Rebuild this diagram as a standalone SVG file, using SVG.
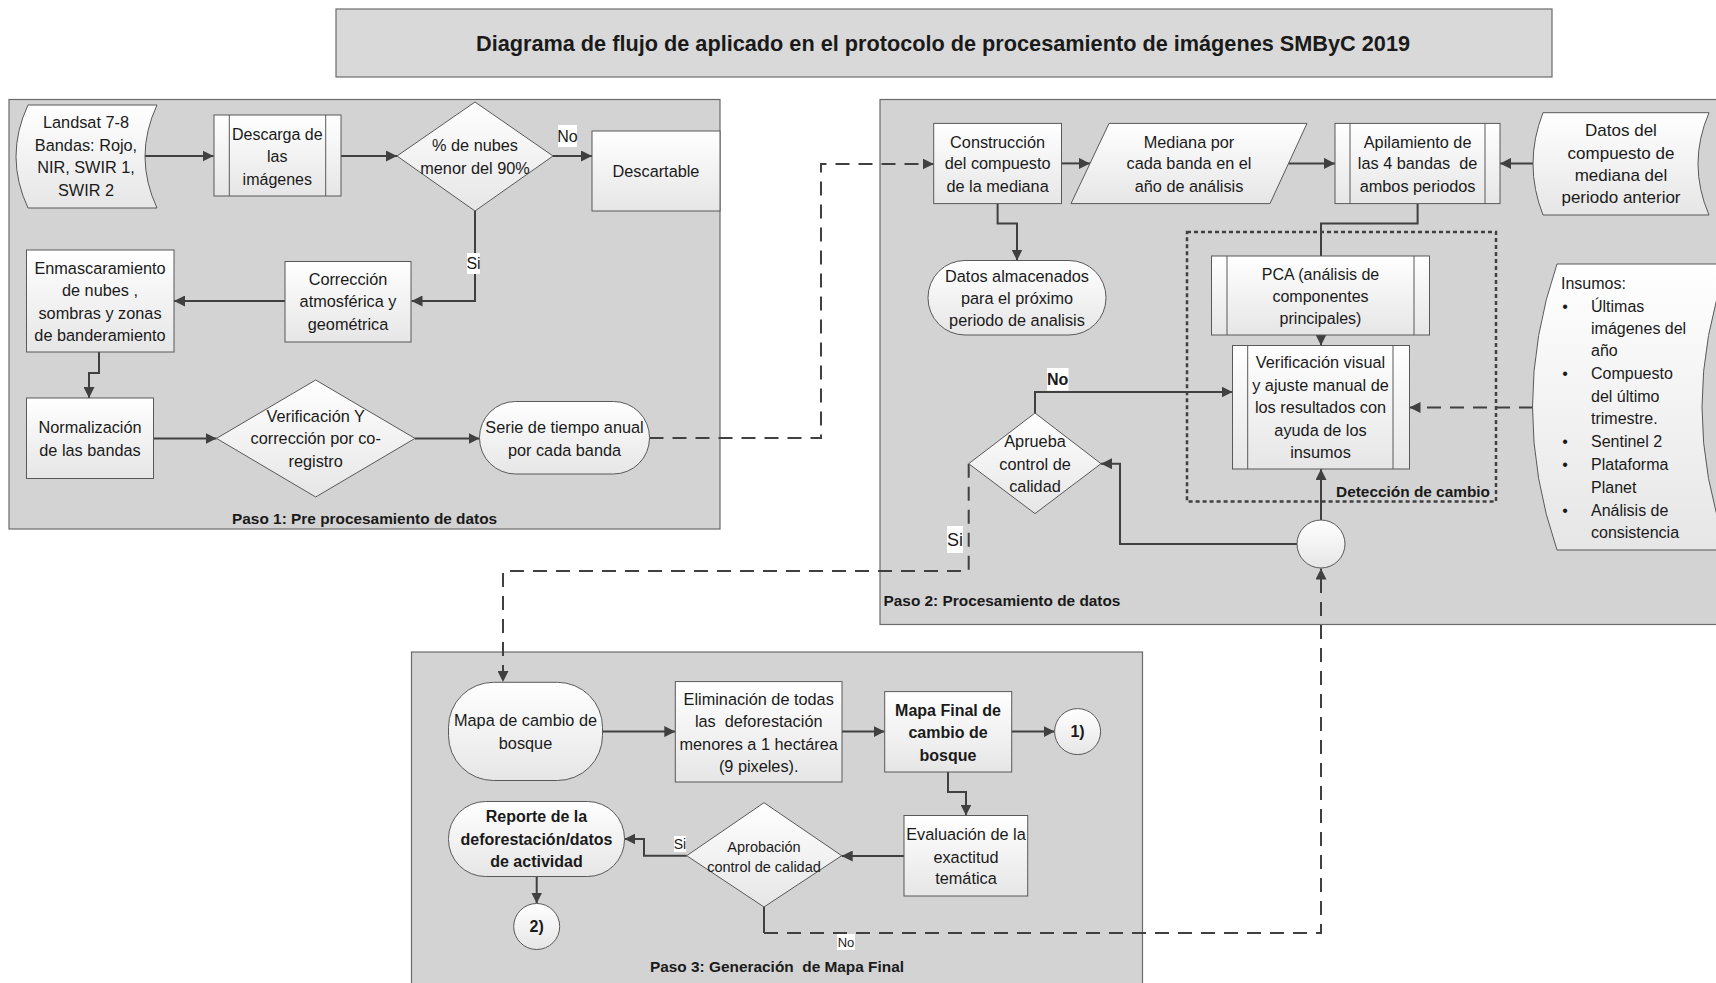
<svg xmlns="http://www.w3.org/2000/svg" width="1716" height="983" viewBox="0 0 1716 983">
<style>
.panel{fill:#d3d3d3;stroke:#6b6b6b;stroke-width:1.2}
.title{fill:#d9d9d9;stroke:#6b6b6b;stroke-width:1.2}
.node{fill:url(#ng);stroke:#595959;stroke-width:1}
.ln{fill:none;stroke:#595959;stroke-width:1}
.c{fill:none;stroke:#404040;stroke-width:2}
.d{fill:none;stroke:#404040;stroke-width:2;stroke-dasharray:14 9}
.dot{fill:none;stroke:#404040;stroke-width:2.5;stroke-dasharray:4 3}
.lab{fill:#ffffff}
text{font-family:"Liberation Sans",Arial,sans-serif;fill:#1a1a1a;dominant-baseline:central}
.t{font-size:16.3px;text-anchor:middle}
.b{font-size:16px;text-anchor:middle;font-weight:bold}
.s{font-size:16px}
.paso{font-size:15.4px;font-weight:bold}
</style>
<defs>
<linearGradient id="ng" x1="0" y1="0" x2="0" y2="1">
<stop offset="0" stop-color="#ffffff"/>
<stop offset="1" stop-color="#e6e6e6"/>
</linearGradient>
<marker id="a" markerWidth="11" markerHeight="11" refX="11" refY="5.5" orient="auto" markerUnits="userSpaceOnUse">
<path d="M0,0 L11,5.5 L0,11 z" fill="#404040"/>
</marker>
</defs>

<g id="title">
<rect class="title" x="336" y="9" width="1216" height="68"/>
<text x="943" y="43" style="font-size:21.7px;font-weight:bold;text-anchor:middle">Diagrama de flujo de aplicado en el protocolo de procesamiento de imágenes SMByC 2019</text>
</g>

<g id="panel1">
<rect class="panel" x="9" y="99.5" width="711" height="429.5"/>
<text class="paso" x="364.6" y="518" text-anchor="middle">Paso 1: Pre procesamiento de datos</text>
</g>
<g id="panel2">
<rect class="panel" x="880" y="99.5" width="850" height="525"/>
<text class="paso" x="883.5" y="600">Paso 2: Procesamiento de datos</text>
</g>
<g id="panel3">
<rect class="panel" x="411.5" y="652" width="731" height="345"/>
<text class="paso" x="777" y="966" text-anchor="middle" xml:space="preserve">Paso 3: Generación  de Mapa Final</text>
</g>

<g id="connectors">
<path class="c" d="M145,156 H213.5" marker-end="url(#a)"/>
<path class="c" d="M341,156 H397" marker-end="url(#a)"/>
<path class="c" d="M553,156 H592" marker-end="url(#a)"/>
<path class="c" d="M475,211 V301 H411.5" marker-end="url(#a)"/>
<path class="c" d="M285,301 H174" marker-end="url(#a)"/>
<path class="c" d="M99,352 V373 H89 V398" marker-end="url(#a)"/>
<path class="c" d="M153.6,438.4 H216.5" marker-end="url(#a)"/>
<path class="c" d="M415,438.4 H479.5" marker-end="url(#a)"/>
<path class="d" d="M649.5,438 H821 V164 H933.7" marker-end="url(#a)"/>
<path class="c" d="M1061.5,163.4 H1090" marker-end="url(#a)"/>
<path class="c" d="M1288.5,163.4 H1335" marker-end="url(#a)"/>
<path class="c" d="M1533,163.4 H1500" marker-end="url(#a)"/>
<path class="c" d="M997.6,203.6 V223.6 H1017 V260.5" marker-end="url(#a)"/>
<path class="c" d="M1417.6,203.6 V223.6 H1321 V256"/>
<path class="c" d="M1321,335 V345.5" marker-end="url(#a)"/>
<path class="d" d="M1533,407.5 H1409.5" marker-end="url(#a)"/>
<path class="c" d="M1035,413 V392 H1232.5" marker-end="url(#a)"/>
<path class="c" d="M1321,520 V469" marker-end="url(#a)"/>
<path class="c" d="M1297,544 H1120 V463.7 H1101" marker-end="url(#a)"/>
<path class="d" d="M968.7,463.7 V571 H503 V682" marker-end="url(#a)"/>
<path class="c" d="M764,907 V933"/>
<path class="d" d="M764,933 H1321 V568.5" marker-end="url(#a)"/>
<path class="c" d="M602.6,731.6 H675.3" marker-end="url(#a)"/>
<path class="c" d="M842,731.6 H884.7" marker-end="url(#a)"/>
<path class="c" d="M1011.7,731.6 H1054.6" marker-end="url(#a)"/>
<path class="c" d="M948,772 V792 H966 V815.5" marker-end="url(#a)"/>
<path class="c" d="M904,856 H841.7" marker-end="url(#a)"/>
<path class="c" d="M686.7,855.7 H644 V839 H624.4" marker-end="url(#a)"/>
<path class="c" d="M536.7,876.5 V903.5" marker-end="url(#a)"/>
</g>

<g id="landsat">
<path class="node" d="M28,105 L157,105 Q133,156.5 157,208 L28,208 Q4,156.5 28,105 Z"/>
<text class="t" x="86" y="122">Landsat 7-8</text>
<text class="t" x="86" y="144.5">Bandas: Rojo,</text>
<text class="t" x="86" y="167">NIR, SWIR 1,</text>
<text class="t" x="86" y="189.5">SWIR 2</text>
</g>
<g id="descarga">
<rect class="node" x="214" y="115" width="127" height="81"/>
<path class="ln" d="M229.3,115 V196 M325.7,115 V196"/>
<text class="t" x="277.3" y="134" style="font-size:16px">Descarga de</text>
<text class="t" x="277.3" y="156.5" style="font-size:16px">las</text>
<text class="t" x="277.3" y="179" style="font-size:16px">imágenes</text>
</g>
<g id="nubes">
<path class="node" d="M475,102 L553,156 L475,211 L397,156 Z"/>
<text class="t" x="475" y="145">% de nubes</text>
<text class="t" x="475" y="168">menor del 90%</text>
</g>
<g id="descartable">
<rect class="node" x="592" y="131" width="128" height="80"/>
<text class="t" x="656" y="171">Descartable</text>
</g>
<g id="correccion">
<rect class="node" x="285" y="261.5" width="126" height="80.5"/>
<text class="t" x="348" y="278.6">Corrección</text>
<text class="t" x="348" y="301">atmosférica y</text>
<text class="t" x="348" y="323.5">geométrica</text>
</g>
<g id="enmascaramiento">
<rect class="node" x="26.5" y="250" width="147.5" height="102"/>
<text class="t" x="100" y="267.5">Enmascaramiento</text>
<text class="t" x="100" y="290">de nubes ,</text>
<text class="t" x="100" y="312.5">sombras y zonas</text>
<text class="t" x="100" y="335">de banderamiento</text>
</g>
<g id="normalizacion">
<rect class="node" x="26.5" y="398" width="127" height="80.5"/>
<text class="t" x="90" y="427">Normalización</text>
<text class="t" x="90" y="450">de las bandas</text>
</g>
<g id="verificacion-y">
<path class="node" d="M315.7,380 L415,438.4 L315.7,497 L216.5,438.4 Z"/>
<text class="t" x="315.7" y="416">Verificación Y</text>
<text class="t" x="315.7" y="438.4">corrección por co-</text>
<text class="t" x="315.7" y="461">registro</text>
</g>
<g id="serie">
<rect class="node" x="479.5" y="401.5" width="170" height="72.5" rx="36" ry="36"/>
<text class="t" x="564.5" y="427">Serie de tiempo anual</text>
<text class="t" x="564.5" y="450">por cada banda</text>
</g>

<g id="construccion">
<rect class="node" x="933.7" y="123.4" width="127.8" height="80.2"/>
<text class="t" x="997.6" y="141.7">Construcción</text>
<text class="t" x="997.6" y="163.4">del compuesto</text>
<text class="t" x="997.6" y="185.7">de la mediana</text>
</g>
<g id="mediana">
<path class="node" d="M1109,123.4 L1307,123.4 L1270,203.6 L1071,203.6 Z"/>
<text class="t" x="1189" y="141.7">Mediana por</text>
<text class="t" x="1189" y="163.4">cada banda en el</text>
<text class="t" x="1189" y="185.7">año de análisis</text>
</g>
<g id="apilamiento">
<rect class="node" x="1335" y="123.4" width="165" height="80.2"/>
<path class="ln" d="M1350,123.4 V203.6 M1485,123.4 V203.6"/>
<text class="t" x="1417.6" y="141.7">Apilamiento de</text>
<text class="t" x="1417.6" y="163.4" xml:space="preserve">las 4 bandas  de</text>
<text class="t" x="1417.6" y="185.7">ambos periodos</text>
</g>
<g id="datos-anterior">
<path class="node" d="M1543,112.7 L1709,112.7 Q1687,163.9 1709,215 L1543,215 Q1523,163.9 1543,112.7 Z"/>
<text class="t" x="1621" y="130" style="font-size:17px">Datos del</text>
<text class="t" x="1621" y="153" style="font-size:17px">compuesto de</text>
<text class="t" x="1621" y="175.5" style="font-size:17px">mediana del</text>
<text class="t" x="1621" y="197.5" style="font-size:17px">periodo anterior</text>
</g>
<g id="datos-almacenados">
<rect class="node" x="928" y="260.5" width="178" height="74.5" rx="37" ry="37"/>
<text class="t" x="1017" y="276">Datos almacenados</text>
<text class="t" x="1017" y="298">para el próximo</text>
<text class="t" x="1017" y="320">periodo de analisis</text>
</g>
<g id="deteccion">
<rect class="dot" x="1187" y="232" width="309" height="269.6"/>
<text x="1490" y="491" style="font-size:15.4px;font-weight:bold;text-anchor:end">Detección de cambio</text>
</g>
<g id="pca">
<rect class="node" x="1211.5" y="256" width="218" height="79"/>
<path class="ln" d="M1227,256 V335 M1414,256 V335"/>
<text class="t" x="1320.5" y="274" style="font-size:16px">PCA (análisis de</text>
<text class="t" x="1320.5" y="296" style="font-size:16px">componentes</text>
<text class="t" x="1320.5" y="318" style="font-size:16px">principales)</text>
</g>
<g id="verificacion-visual">
<rect class="node" x="1232.5" y="345.5" width="177" height="123.5"/>
<path class="ln" d="M1247.7,345.5 V469 M1393,345.5 V469"/>
<text class="t" x="1320.5" y="362">Verificación visual</text>
<text class="t" x="1320.5" y="384.5">y ajuste manual de</text>
<text class="t" x="1320.5" y="407">los resultados con</text>
<text class="t" x="1320.5" y="429.5">ayuda de los</text>
<text class="t" x="1320.5" y="452">insumos</text>
</g>
<g id="aprueba">
<path class="node" d="M1035,413 L1101,463.7 L1035,513.6 L968.7,463.7 Z"/>
<text class="t" x="1035" y="441">Aprueba</text>
<text class="t" x="1035" y="463.7">control de</text>
<text class="t" x="1035" y="486">calidad</text>
</g>
<g id="union">
<circle class="node" cx="1321" cy="544" r="24"/>
</g>
<g id="insumos">
<path class="node" d="M1557,264 L1728,264 Q1676,407 1728,550 L1557,550 Q1508,407 1557,264 Z"/>
<text class="s" x="1561" y="283">Insumos:</text>
<text class="s" x="1565" y="306" text-anchor="middle">•</text>
<text class="s" x="1565" y="373" text-anchor="middle">•</text>
<text class="s" x="1565" y="441" text-anchor="middle">•</text>
<text class="s" x="1565" y="464" text-anchor="middle">•</text>
<text class="s" x="1565" y="510" text-anchor="middle">•</text>
<text class="s" x="1591" y="306">Últimas</text>
<text class="s" x="1591" y="328">imágenes del</text>
<text class="s" x="1591" y="350">año</text>
<text class="s" x="1591" y="373">Compuesto</text>
<text class="s" x="1591" y="396">del último</text>
<text class="s" x="1591" y="418.5">trimestre.</text>
<text class="s" x="1591" y="441">Sentinel 2</text>
<text class="s" x="1591" y="464">Plataforma</text>
<text class="s" x="1591" y="487">Planet</text>
<text class="s" x="1591" y="510">Análisis de</text>
<text class="s" x="1591" y="532">consistencia</text>
</g>

<g id="mapa-cambio">
<rect class="node" x="448.5" y="682.3" width="154" height="98.2" rx="45" ry="45"/>
<text class="t" x="525.5" y="720">Mapa de cambio de</text>
<text class="t" x="525.5" y="743">bosque</text>
</g>
<g id="eliminacion">
<rect class="node" x="675.3" y="681.6" width="166.7" height="100.4"/>
<text class="t" x="758.7" y="699">Eliminación de todas</text>
<text class="t" x="758.7" y="721" xml:space="preserve">las  deforestación</text>
<text class="t" x="758.7" y="743.5">menores a 1 hectárea</text>
<text class="t" x="758.7" y="766">(9 pixeles).</text>
</g>
<g id="mapa-final">
<rect class="node" x="884.7" y="691.6" width="127" height="80.4"/>
<text class="b" x="948" y="710">Mapa Final de</text>
<text class="b" x="948" y="732.5">cambio de</text>
<text class="b" x="948" y="755">bosque</text>
</g>
<g id="conector-1">
<circle class="node" cx="1077.6" cy="731.6" r="23"/>
<text class="b" x="1077.6" y="731.6">1)</text>
</g>
<g id="evaluacion">
<rect class="node" x="904" y="815.5" width="123.7" height="80.5"/>
<text class="t" x="966" y="834">Evaluación de la</text>
<text class="t" x="966" y="856.5">exactitud</text>
<text class="t" x="966" y="878">temática</text>
</g>
<g id="aprobacion">
<path class="node" d="M764,802.7 L841.7,855.7 L764,907 L686.7,855.7 Z"/>
<text x="764" y="846.5" style="font-size:14.5px;text-anchor:middle">Aprobación</text>
<text x="764" y="866.5" style="font-size:14.5px;text-anchor:middle">control de calidad</text>
</g>
<g id="reporte">
<rect class="node" x="448.5" y="801.5" width="176" height="75" rx="37" ry="37"/>
<text class="b" x="536.5" y="816.5">Reporte de la</text>
<text class="b" x="536.5" y="839">deforestación/datos</text>
<text class="b" x="536.5" y="861">de actividad</text>
</g>
<g id="conector-2">
<circle class="node" cx="536.7" cy="926.5" r="23"/>
<text class="b" x="536.7" y="926.5">2)</text>
</g>

<g id="labels">
<rect class="lab" x="558" y="125" width="19" height="22"/>
<text x="567.5" y="136" style="font-size:16px;text-anchor:middle">No</text>
<rect class="lab" x="467" y="253" width="13" height="21"/>
<text x="473.5" y="263.5" style="font-size:16px;text-anchor:middle">Si</text>
<rect class="lab" x="1047" y="368" width="21.5" height="22.6"/>
<text x="1057.7" y="379" style="font-size:16px;font-weight:bold;text-anchor:middle">No</text>
<rect class="lab" x="947" y="526" width="16" height="27"/>
<text x="955" y="539.5" style="font-size:18px;text-anchor:middle">Si</text>
<rect class="lab" x="674" y="836" width="12" height="16"/>
<text x="680" y="844" style="font-size:14px;text-anchor:middle">Si</text>
<rect class="lab" x="837" y="934" width="18" height="16"/>
<text x="846" y="942" style="font-size:13px;text-anchor:middle">No</text>
</g>
</svg>
